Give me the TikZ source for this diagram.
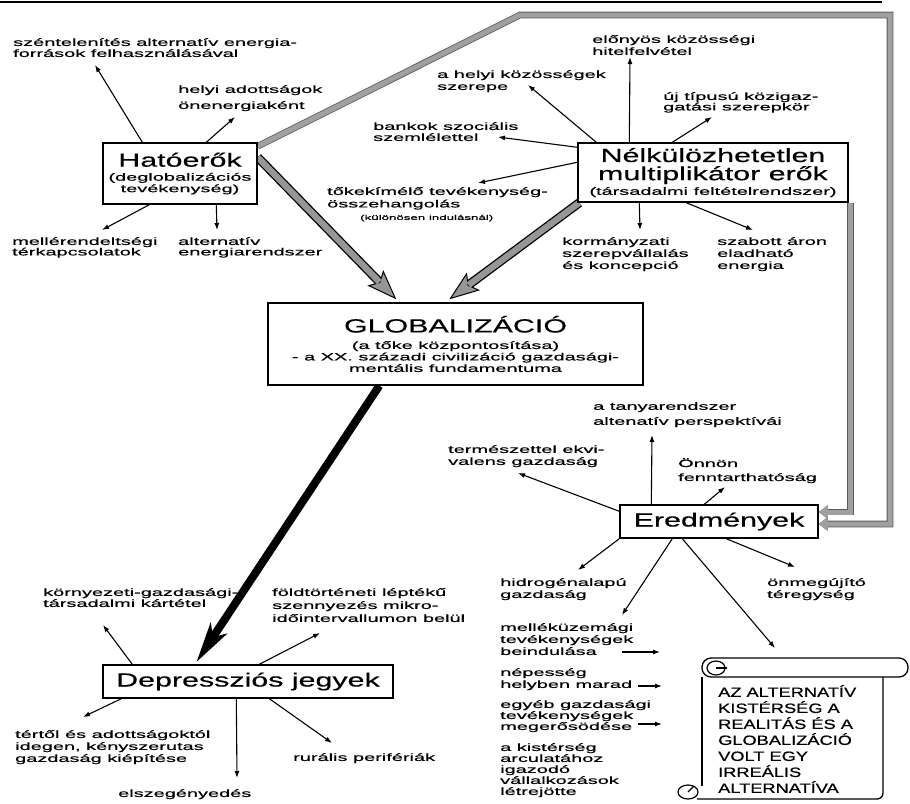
\documentclass[tikz,border=0pt]{standalone}
\usepackage{fontspec}
\setmainfont{Liberation Sans}
\newfontfamily\lblfont[FakeStretch=1.9,FakeBold=0.6]{Liberation Sans}
\newfontfamily\boxfont[FakeStretch=1.6,FakeBold=0.4]{Liberation Sans}
\newfontfamily\scrollfont[FakeStretch=1.35,FakeBold=0.6]{Liberation Sans}
\usepackage{tikz}
\usetikzlibrary{arrows.meta, backgrounds}
\definecolor{loopgray}{RGB}{160,160,160}
\definecolor{fatgrayfill}{RGB}{150,150,150}
\newcommand{\headtxt}[1]{{\boxfont\fontsize{19}{19}\selectfont #1}}

\begin{document}
\begin{tikzpicture}[x=1pt, y=-1pt,
    lbl/.style={anchor=north west, inner sep=0pt, align=left,
      font=\lblfont\fontsize{10.5}{#1}\selectfont},
    lbl/.default=11.5,
    box/.style={draw, fill=white, line width=1.4pt, inner sep=0pt, align=center,
      font=\lblfont\fontsize{10.5}{11.5}\selectfont},
    arr/.style={-{Latex[length=7pt,width=5pt]}, line width=1.1pt},
    feed/.style={draw=loopgray, line width=5pt, -{Triangle[length=9pt,width=13pt]},
      preaction={draw=gray!70!black, line width=6.6pt}},
    fatgray/.style={draw=black, line width=9pt,
      -{Stealth[length=30pt,width=22pt,inset=6pt,line width=1pt,fill=fatgrayfill]},
      postaction={draw=fatgrayfill, line width=6.4pt, -, shorten >=24pt}},
    fatblack/.style={draw=black, line width=8pt,
      -{Stealth[length=40pt,width=19pt,inset=10pt]}}]
  \useasboundingbox (0,0) rectangle (910,803);
  \draw[line width=2pt] (0,1.5) -- (882,1.5);

  % main boxes
  \node[box, minimum width=154pt, minimum height=61pt] (hat) at (180,173.5)
    {\headtxt{Hatóerők}\\[2.5pt](deglobalizációs\\tevékenység)};
  \node[box, minimum width=270pt, minimum height=59pt] (nel) at (713,172.5)
    {\headtxt{Nélkülözhetetlen}\\[3pt]\headtxt{multiplikátor erők}\\[2pt](társadalmi feltételrendszer)};
  \node[box, minimum width=375pt, minimum height=82pt] (glob) at (455.5,344)
    {\headtxt{GLOBALIZÁCIÓ}\\[5pt](a tőke központosítása)\\- a XX. századi civilizáció gazdasági-\\mentális fundamentuma};
  \node[box, minimum width=198pt, minimum height=33pt] (ered) at (719,521.5) {\headtxt{Eredmények}};
  \node[box, minimum width=290pt, minimum height=33pt] (dep) at (248,681.5) {\headtxt{Depressziós jegyek}};

  % labels
  \node[lbl=11] (szen) at (13,38) {széntelenítés alternatív energia-\\források felhasználásával};
  \node[lbl=16] (helyi) at (178,85) {helyi adottságok\\önenergiaként};
  \node[lbl=10.5] (mell) at (12,237) {mellérendeltségi\\térkapcsolatok};
  \node[lbl=10.5] (altr) at (178,237) {alternatív\\energiarendszer};
  \node[lbl=12] (ahelyi) at (437,70) {a helyi közösségek\\szerepe};
  \node[lbl=12] (elony) at (592,35) {előnyös közösségi\\hitelfelvétel};
  \node[lbl=10.5] (ujtip) at (663,92) {új típusú közigaz-\\gatási szerepkör};
  \node[lbl=11] (bank) at (373,122) {bankok szociális\\szemlélettel};
  \node[lbl=12.5] (toke) at (327,187) {tőkekímélő tevékenység-\\összehangolás\\
    \hspace*{33pt}{\fontsize{7}{8}\selectfont(különösen indulásnál)}};
  \node[lbl=12] (korm) at (562,237) {kormányzati\\szerepvállalás\\és koncepció};
  \node[lbl=12] (szab) at (717,237) {szabott áron\\eladható\\energia};
  \node[lbl=15] (tanya) at (593,402) {a tanyarendszer\\altenatív perspektívái};
  \node[lbl=12] (term) at (448,445) {természettel ekvi-\\valens gazdaság};
  \node[lbl=14] (onnon) at (678,458) {Önnön\\fenntarthatóság};
  \node[lbl=12] (hidr) at (500,578) {hidrogénalapú\\gazdaság};
  \node[lbl=12] (onmeg) at (767,578) {önmegújító\\téregység};
  \node[lbl=12] (mellek) at (500,623) {melléküzemági\\tevékenységek\\beindulása};
  \node[lbl=12] (nep) at (500,668) {népesség\\helyben marad};
  \node[lbl=11] (egyeb) at (500,700) {egyéb gazdasági\\tevékenységek\\megerősödése};
  \node[lbl=11] (kister) at (500,743) {a kistérség\\arculatához\\igazodó\\vállalkozások\\létrejötte};
  \node[lbl=11] (korny) at (43,588) {környezeti-gazdasági-\\társadalmi kártétel};
  \node[lbl=13] (fold) at (272,588) {földtörténeti léptékű\\szennyezés mikro-\\időintervallumon belül};
  \node[lbl=12] (tert) at (15,730) {tértől és adottságoktól\\idegen, kényszerutas\\gazdaság kiépítése};
  \node[lbl] (rur) at (293,753) {rurális perifériák};
  \node[lbl] (elsz) at (118,789) {elszegényedés};

  % scroll
  \node[anchor=north west, inner sep=0pt, align=left,
    font=\scrollfont\fontsize{13.5}{16}\selectfont] (scroll) at (718,685)
    {AZ ALTERNATÍV\\KISTÉRSÉG A\\REALITÁS ÉS A\\GLOBALIZÁCIÓ\\VOLT EGY\\IRREÁLIS\\ALTERNATÍVA};
  \draw[line width=1.3pt, rounded corners=9pt] (702,658) rectangle (908,677);
  \draw[line width=1.2pt] (716,668) ellipse[x radius=9pt, y radius=7pt];
  \draw[line width=1.2pt] (716,668) -- (727,668);
  \draw[line width=1.3pt] (702,677) -- (702,786);
  \draw[line width=1.3pt, rounded corners=6pt] (883,677) -- (883,799) -- (697,799);
  \draw[line width=1.2pt] (688,792) ellipse[x radius=10pt, y radius=7pt];
  \draw[line width=1.2pt] (688,792) -- (694,786);

  \begin{scope}[on background layer]
    \draw[feed] ([yshift=-4pt]hat.north east) -- (520,15) -- (890,15) |- ([yshift=-2.5pt]ered.east);
    \draw[feed] ([xshift=2pt]nel.south east) |- ([yshift=9.5pt]ered.east);
    \draw[fatgray] ([yshift=-15pt]hat.north east) -- ([xshift=129pt,yshift=3pt]glob.north west);
    \draw[fatgray] ([xshift=2pt]nel.south west) -- ([xshift=182pt,yshift=3pt]glob.north west);
    \draw[fatblack] ([xshift=112pt]glob.south west) -- ([xshift=94pt,yshift=2pt]dep.north west);
  \end{scope}

  % Hatóerők
  \draw[arr] ([xshift=40pt]hat.north west) -- ([xshift=82pt,yshift=-27pt]szen.north west);
  \draw[arr] ([xshift=104pt]hat.north west) -- ([xshift=57pt,yshift=-32pt]helyi.north west);
  \draw[arr] ([xshift=47pt]hat.south west) -- ([xshift=90pt,yshift=7pt]mell.north west);
  \draw[arr] ([xshift=114pt]hat.south west) -- ([xshift=39pt,yshift=7pt]altr.north west);
  % multiplikator
  \draw[arr] ([xshift=52pt]nel.north west) -- ([xshift=38pt,yshift=-22pt]elony.north west);
  \draw[arr] ([xshift=19pt]nel.north west) -- ([xshift=91pt,yshift=-15pt]ahelyi.north west);
  \draw[arr] ([xshift=95pt]nel.north west) -- ([xshift=49pt,yshift=-25pt]ujtip.north west);
  \draw[arr] ([yshift=-5pt]nel.north west) -- ([xshift=125pt,yshift=-15pt]bank.north west);
  \draw[arr] ([yshift=-20pt]nel.north west) -- ([xshift=151pt,yshift=4pt]toke.north west);
  \draw[arr] ([xshift=62pt]nel.south west) -- ([xshift=78pt,yshift=7pt]korm.north west);
  \draw[arr] ([xshift=109pt]nel.south west) -- ([xshift=36pt,yshift=7pt]szab.north west);
  % Eredmenyek
  \draw[arr] ([xshift=32pt]ered.north west) -- ([xshift=59pt,yshift=-33pt]tanya.north west);
  \draw[arr] ([yshift=-7pt]ered.north west) -- ([xshift=70pt,yshift=-28pt]term.north west);
  \draw[arr] ([xshift=85pt]ered.north west) -- ([xshift=47pt,yshift=-29pt]onnon.north west);
  \draw[arr] (ered.south west) -- ([xshift=78pt,yshift=8pt]hidr.north west);
  \draw[arr] ([xshift=53pt]ered.south west) -- ([xshift=122pt,yshift=8pt]mellek.north west);
  \draw[arr] ([xshift=63pt]ered.south west) -- ([xshift=57pt,yshift=37pt]scroll.north west);
  \draw[arr] ([xshift=107pt]ered.south west) -- ([xshift=28pt,yshift=11pt]onmeg.north west);
  \draw[arr] ([xshift=122pt,yshift=-29pt]mellek.north west) -- ([xshift=-58pt,yshift=33pt]scroll.north west);
  \draw[arr] ([xshift=138pt,yshift=-18pt]nep.north west) -- ([xshift=-56pt,yshift=-1pt]scroll.north west);
  \draw[arr] ([xshift=138pt,yshift=-24pt]egyeb.north west) -- ([xshift=-56pt,yshift=-39pt]scroll.north west);
  % Depresszios
  \draw[arr] ([xshift=30pt]dep.north west) -- ([xshift=60pt,yshift=-37pt]korny.north west);
  \draw[arr] ([xshift=157pt]dep.north west) -- ([xshift=48pt,yshift=-45pt]fold.north west);
  \draw[arr] ([xshift=19pt]dep.south west) -- ([xshift=68pt,yshift=13pt]tert.north west);
  \draw[arr] ([xshift=134pt]dep.south west) -- ([xshift=119pt,yshift=11pt]elsz.north west);
  \draw[arr] ([xshift=167pt]dep.south west) -- ([xshift=39pt,yshift=10pt]rur.north west);
\end{tikzpicture}
\end{document}
